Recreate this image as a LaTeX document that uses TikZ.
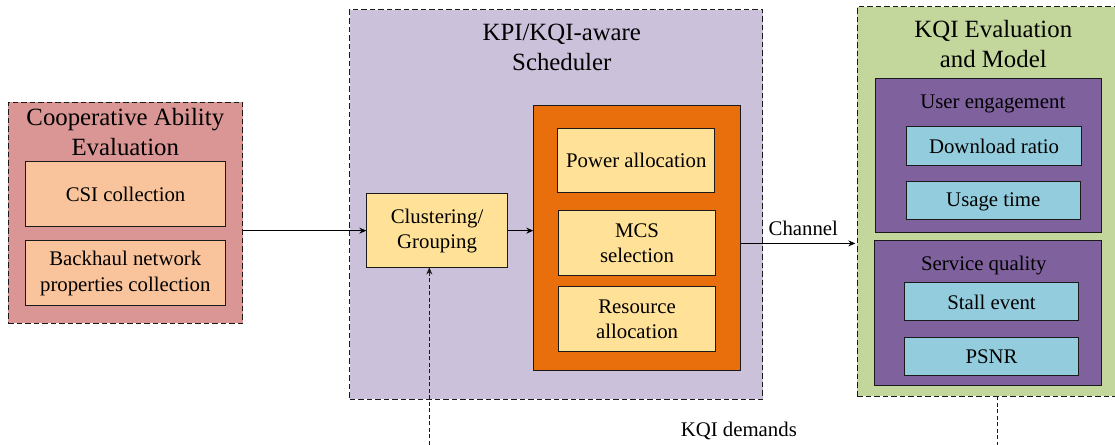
\documentclass[tikz,border=0pt]{standalone}
\usepackage{fontspec}
\setmainfont{Liberation Serif}
\usetikzlibrary{arrows.meta,calc}
\definecolor{cRed}{HTML}{D99694}
\definecolor{cPeach}{HTML}{F9C39B}
\definecolor{cLilac}{HTML}{CCC1DA}
\definecolor{cOrange}{HTML}{E96E0C}
\definecolor{cYellow}{HTML}{FFE298}
\definecolor{cGreen}{HTML}{C3D69B}
\definecolor{cViolet}{HTML}{7F619E}
\definecolor{cCyan}{HTML}{93CDDD}
\definecolor{cInk}{HTML}{1A1A1A}
\tikzset{
  x=1pt,y=-1pt,
  every node/.style={inner sep=0pt,outer sep=0pt,text=black},
  px/.style n args={4}{minimum width=#3-#1-1,minimum height=#4-#2-1,anchor=center,at={({(#1+#3)/2},{(#2+#4)/2})}},
  group/.style={draw=cInk,line width=0.9pt,dash pattern=on 5.5pt off 3pt,rectangle},
  solidbox/.style={draw=cInk,line width=1pt,rectangle},
  titletext/.style={font=\fontsize{24.8}{30}\selectfont,align=center},
  bodytext/.style={font=\fontsize{20.8}{25.2}\selectfont,align=center},
  link/.style={draw=black,line width=0.9pt,-{Stealth[length=7pt,width=6pt]}},
  dashlink/.style={draw=cInk,line width=0.9pt,dash pattern=on 4pt off 2.5pt},
}
\begin{document}
\begin{tikzpicture}
\useasboundingbox (0,0) rectangle (1115,444);
\clip (0,0) rectangle (1115,444);
\begin{scope}[xshift=-0.2pt,yshift=0.1pt]
% groups
\node[group,fill=cRed,px={8}{102}{243.5}{324}] (red) {};
\node[group,fill=cLilac,px={349.5}{9.5}{763.5}{400}] (sched) {};
\node[group,fill=cGreen,px={857}{6.5}{1130}{397}] (kqi) {};
% titles
\node[titletext] (redtitle) at (125.5,132) {Cooperative Ability\\Evaluation};
\node[titletext] (schedtitle) at (562,47.5) {KPI/KQI-aware\\Scheduler};
\node[titletext] (kqititle) at (993.5,44.5) {KQI Evaluation\\and Model};
% left
\node[solidbox,fill=cPeach,px={25}{161}{226.5}{227},bodytext] (csi) {CSI collection};
\node[solidbox,fill=cPeach,px={25}{240}{226.5}{306}] (back) {};
\node[bodytext] (backtext) at (125.5,273.5) {Backhaul network\\properties collection};
% scheduler
\node[solidbox,fill=cYellow,px={366}{193.5}{508.5}{268},bodytext] (clust) {Clustering/\\Grouping};
\node[solidbox,fill=cOrange,px={533}{105}{741.5}{371}] (alloc) {};
\node[solidbox,fill=cYellow,px={557.5}{128}{715.5}{193},bodytext] (power) {Power allocation};
\node[solidbox,fill=cYellow,px={558}{210}{716.5}{276},bodytext] (mcs) {MCS\\selection};
\node[solidbox,fill=cYellow,px={558}{286}{716.5}{352},bodytext] (res) {Resource\\allocation};
% KQI
\node[solidbox,fill=cViolet,px={875}{78}{1102.5}{233}] (user) {};
\node[solidbox,fill=cViolet,px={874}{240.5}{1102}{386}] (serv) {};
\node[bodytext] (usertext) at (993,104.5) {User engagement};
\node[bodytext] (servtext) at (984,265.5) {Service quality};
\node[solidbox,fill=cCyan,px={906}{126.5}{1082.5}{166},bodytext] (down) {Download ratio};
\node[solidbox,fill=cCyan,px={906}{181}{1081}{220}] (usage) {};
\node[bodytext] (usagetext) at (993.5,202) {Usage time};
\node[solidbox,fill=cCyan,px={904}{282.5}{1079.5}{321.5},bodytext] (stall) {Stall event};
\node[solidbox,fill=cCyan,px={904}{337}{1079.5}{376},bodytext] (psnr) {PSNR};
% free labels
\node[bodytext] (chan) at (803.5,228) {Channel};
\node[bodytext] (demands) at (739,431.5) {KQI demands};
% connectors
\coordinate (redout) at (red.east |- clust.west);
\draw[link] (redout) -- (clust.west);
\coordinate (allocin) at (alloc.west |- clust.east);
\draw[link] (clust.east) -- (allocin);
\coordinate (allocout) at (741,243.5);
\coordinate (kqiin) at (855.5,243.5);
\draw[link] (allocout) -- (kqiin);
\coordinate (kqibelow) at (997.5,445);
\coordinate (kqibot) at (997.5,396.5);
\draw[dashlink] (kqibot) -- (kqibelow);
\coordinate (upfrom) at (429.5,445);
\coordinate (upto) at (upfrom |- clust.south);
\draw[dashlink,-{Stealth[length=7pt,width=6pt]}] (upfrom) -- (upto);
\end{scope}
\end{tikzpicture}
\end{document}
